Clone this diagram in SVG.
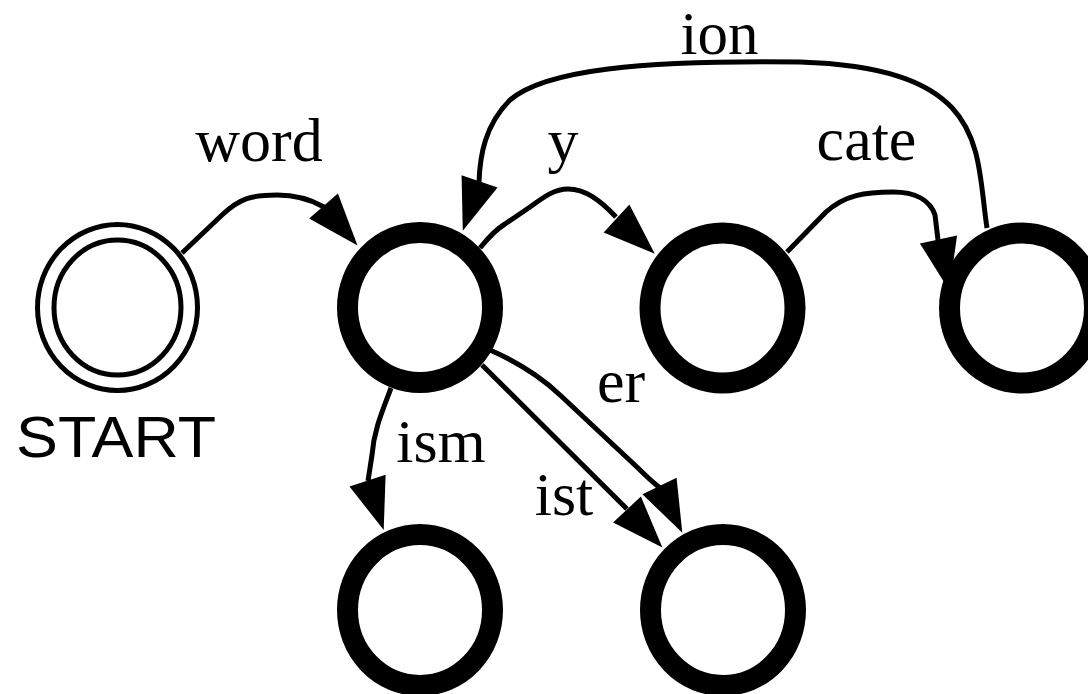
<svg xmlns="http://www.w3.org/2000/svg" xmlns:xlink="http://www.w3.org/1999/xlink" width="1088" height="694" viewBox="0 0 1088 694">
  <style>
    .state { fill: #fff; stroke: #000; stroke-width: 21; }
    .start { fill: #fff; stroke: #000; stroke-width: 5; }
    .edge { fill: none; stroke: #000; stroke-width: 5; stroke-linejoin: round; }
    .lbl { font-family: "Liberation Serif", "Times New Roman", serif; font-size: 62px; fill: #000; text-anchor: middle; }
    .caption { font-family: "Liberation Sans", Arial, sans-serif; font-size: 58px; fill: #000; }
  </style>
  <defs>
    <!-- arrowhead: tip at origin, pointing along +x -->
    <polygon id="ah" points="0,0 -52,-19 -52,19" fill="#000"/>
  </defs>
  <rect width="1088" height="694" fill="#fff"/>

  <g id="connectors">
    <!-- word: START -> n1 -->
    <path class="edge" d="M 182 253 L 222 215 C 240 198, 252 195, 277 195 C 296 195, 310 199, 324 207"/>
    <use xlink:href="#ah" href="#ah" transform="translate(357.5 245.4) rotate(49.2)"/>
    <!-- y: n1 -> n2 -->
    <path class="edge" d="M 480 248 C 488 238, 495 230, 505 224 L 530 207 C 545 196, 555 189, 568 189 C 585 189, 600 200, 616 217"/>
    <use xlink:href="#ah" href="#ah" transform="translate(654.8 253.7) rotate(42.6)"/>
    <!-- cate: n2 -> n3 -->
    <path class="edge" d="M 787 252 L 826 212 C 845 195, 865 192, 893 192 C 915 192, 930 200, 935 215 L 938 240"/>
    <use xlink:href="#ah" href="#ah" transform="translate(949.3 290.4) rotate(78)"/>
    <!-- ion: n3 -> n1 -->
    <path class="edge" d="M 987 228 C 975 150, 990 68, 800 62 C 640 60, 545 70, 510 100 C 485 125, 480 155, 479 182"/>
    <use xlink:href="#ah" href="#ah" transform="translate(462.8 230.7) rotate(108.8)"/>
    <!-- ism: n1 -> n4 -->
    <path class="edge" d="M 391 388 C 382 412, 374 430, 372 455 L 368 481"/>
    <use xlink:href="#ah" href="#ah" transform="translate(383.7 530) rotate(71.9)"/>
    <!-- ist: n1 -> n5 -->
    <path class="edge" d="M 482 365 L 627 509"/>
    <use xlink:href="#ah" href="#ah" transform="translate(662.4 547.6) rotate(47.1)"/>
    <!-- er: n1 -> n5 -->
    <path class="edge" d="M 490 350 C 515 361, 540 376, 560 395 L 638 468 C 648 478, 655 484, 660 488"/>
    <use xlink:href="#ah" href="#ah" transform="translate(682.3 532.7) rotate(64)"/>

    <text class="lbl" x="259" y="161">word</text>
    <text class="lbl" x="563" y="161">y</text>
    <text class="lbl" x="866.5" y="160">cate</text>
    <text class="lbl" x="719.5" y="54" style="font-size:61px">ion</text>
    <text class="lbl" x="621" y="402">er</text>
    <text class="lbl" x="441" y="462">ism</text>
    <text class="lbl" x="564" y="515">ist</text>
  </g>

  <g id="start">
    <ellipse class="start" cx="117.5" cy="307.5" rx="80" ry="83"/>
    <ellipse class="start" cx="117.5" cy="307.5" rx="63.5" ry="67.5"/>
    <text class="caption" x="16" y="457" textLength="200" lengthAdjust="spacingAndGlyphs">START</text>
  </g>
  <g id="n1"><ellipse class="state" cx="420" cy="307.5" rx="72.5" ry="75"/></g>
  <g id="n2"><ellipse class="state" cx="722.5" cy="308" rx="72.5" ry="75"/></g>
  <g id="n3"><ellipse class="state" cx="1022" cy="308" rx="72.5" ry="75"/></g>
  <g id="n4"><ellipse class="state" cx="420" cy="610" rx="72.5" ry="75.5"/></g>
  <g id="n5"><ellipse class="state" cx="723" cy="610" rx="72.5" ry="75.5"/></g>
</svg>
